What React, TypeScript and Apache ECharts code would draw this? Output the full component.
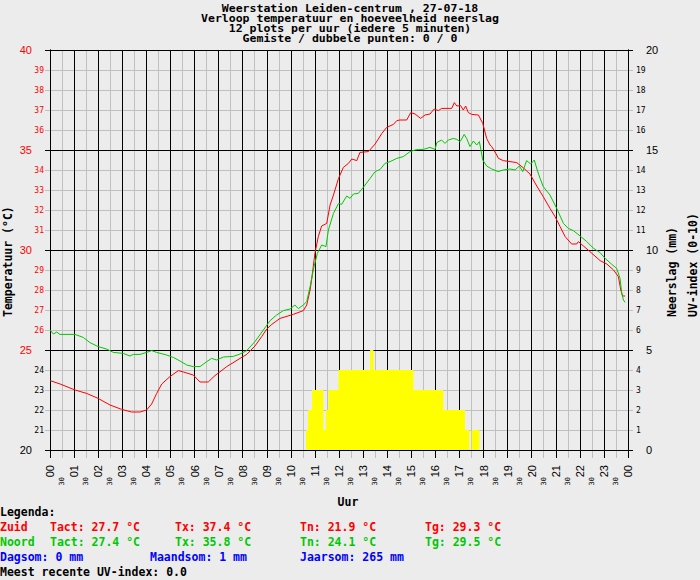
import { useEffect, useRef } from 'react';
import * as echarts from 'echarts';

// ---------- data ----------
const hourLabels = ['00','01','02','03','04','05','06','07','08','09','10','11','12','13','14','15','16','17','18','19','20','21','22','23','00'];

// Zuid temperature [hour, °C]
const zuid: [number, number][] = [
  [0, 23.47], [0.42, 23.3], [1.04, 23.0], [1.52, 22.83], [2.0, 22.58], [2.49, 22.25], [2.98, 22.03],
  [3.39, 21.9], [3.74, 21.9], [4.01, 22.0], [4.22, 22.3], [4.43, 22.83], [4.64, 23.3], [4.98, 23.67],
  [5.33, 23.97], [5.54, 23.9], [5.95, 23.75], [6.23, 23.4], [6.57, 23.4], [6.85, 23.72], [7.34, 24.17],
  [7.89, 24.58], [8.17, 24.78], [8.51, 25.2], [8.79, 25.67], [9.0, 26.05], [9.21, 26.28], [9.55, 26.58],
  [10.1, 26.78], [10.52, 26.97], [10.66, 27.25], [10.8, 28.0], [10.87, 28.58], [11.0, 29.83],
  [11.14, 30.67], [11.28, 31.2], [11.49, 31.33], [11.63, 32.25], [11.77, 32.75], [11.98, 33.58],
  [12.18, 34.13], [12.39, 34.33], [12.53, 34.55], [12.74, 34.47], [12.87, 34.88], [13.22, 34.92],
  [13.5, 35.3], [13.78, 35.83], [13.98, 36.13], [14.26, 36.28], [14.4, 36.47], [14.53, 36.5],
  [14.81, 36.5], [14.98, 36.87], [15.16, 36.8], [15.39, 36.58], [15.57, 36.75], [15.78, 36.8],
  [15.95, 37.05], [16.13, 36.97], [16.26, 37.08], [16.68, 37.08], [16.79, 37.37], [16.89, 37.2],
  [17.05, 37.22], [17.16, 37.0], [17.26, 37.2], [17.37, 36.87], [17.51, 36.78], [17.79, 36.75],
  [17.97, 36.33], [18.13, 35.58], [18.27, 35.25], [18.34, 35.17], [18.55, 34.75], [18.62, 34.58],
  [18.82, 34.47], [19.38, 34.37], [19.66, 34.1], [19.93, 33.8], [20.21, 33.2], [20.48, 32.67],
  [20.76, 32.08], [20.97, 31.67], [21.18, 31.17], [21.39, 30.67], [21.66, 30.3], [21.87, 30.3],
  [21.94, 30.42], [22.15, 30.2], [22.42, 29.92], [22.84, 29.47], [23.12, 29.3], [23.4, 29.0],
  [23.6, 28.67], [23.7, 28.0], [23.78, 27.7], [23.88, 27.7],
];

// Noord temperature [hour, °C]
const noord: [number, number][] = [
  [0, 26.0], [0.14, 25.8], [0.28, 25.9], [0.41, 25.78], [1.04, 25.78], [1.38, 25.63], [1.66, 25.37],
  [2.0, 25.17], [2.35, 25.05], [2.63, 24.88], [3.04, 24.83], [3.32, 24.7], [3.46, 24.78], [3.74, 24.78],
  [4.01, 24.88], [4.22, 24.97], [4.43, 24.88], [4.84, 24.75], [5.12, 24.63], [5.4, 24.45], [5.68, 24.25],
  [5.95, 24.17], [6.23, 24.17], [6.51, 24.42], [6.71, 24.58], [6.92, 24.5], [7.2, 24.65], [7.61, 24.68],
  [7.89, 24.8], [8.17, 24.97], [8.51, 25.42], [8.86, 26.0], [9.14, 26.47], [9.41, 26.75], [9.69, 26.97],
  [9.97, 27.05], [10.17, 27.25], [10.31, 27.07], [10.52, 27.25], [10.66, 27.42], [10.8, 28.17],
  [10.94, 29.05], [11.1, 29.83], [11.28, 30.25], [11.46, 30.17], [11.56, 31.0], [11.77, 31.83],
  [11.98, 32.33], [12.11, 32.28], [12.32, 32.7], [12.46, 32.58], [12.6, 32.8], [12.8, 32.83],
  [13.01, 33.13], [13.29, 33.58], [13.5, 33.92], [13.71, 34.03], [13.91, 34.33], [14.12, 34.42],
  [14.4, 34.58], [14.67, 34.67], [14.95, 34.92], [15.16, 35.0], [15.3, 35.03], [15.5, 35.03],
  [15.78, 35.13], [15.99, 35.03], [16.06, 35.37], [16.26, 35.5], [16.4, 35.33], [16.54, 35.5],
  [16.75, 35.58], [16.89, 35.53], [17.03, 35.42], [17.2, 35.78], [17.3, 35.58], [17.44, 35.17],
  [17.58, 35.45], [17.72, 35.25], [17.83, 35.42], [17.97, 34.5], [18.13, 34.2], [18.34, 34.05],
  [18.61, 33.92], [18.82, 34.0], [19.1, 34.05], [19.31, 34.0], [19.49, 34.2], [19.63, 33.92],
  [19.79, 34.47], [19.96, 34.3], [20.11, 34.5], [20.23, 34.0], [20.35, 33.58], [20.48, 33.17],
  [20.76, 32.75], [21.04, 32.08], [21.32, 31.33], [21.52, 31.08], [21.73, 30.97], [22.01, 30.7],
  [22.29, 30.42], [22.57, 30.08], [22.84, 29.87], [23.05, 29.58], [23.33, 29.28], [23.53, 29.08],
  [23.67, 28.58], [23.74, 27.83], [23.81, 27.5], [23.88, 27.38],
];

// UV index steps [hour where value starts, value]
const uvSteps: [number, number][] = [
  [10.63, 1], [10.71, 2], [10.88, 3], [11.35, 1], [11.46, 2], [11.56, 3], [11.98, 4], [13.29, 5],
  [13.43, 4], [15.09, 3], [16.33, 2], [17.23, 1], [17.41, 0], [17.51, 1], [17.83, 0],
];

const titleLines = [
  'Weerstation Leiden-centrum , 27-07-18',
  'Verloop temperatuur en hoeveelheid neerslag',
  '12 plots per uur (iedere 5 minuten)',
  'Gemiste / dubbele punten: 0 / 0',
];

const zuidStats = ['Zuid', 'Tact: 27.7 °C', 'Tx: 37.4 °C', 'Tn: 21.9 °C', 'Tg: 29.3 °C'];
const noordStats = ['Noord', 'Tact: 27.4 °C', 'Tx: 35.8 °C', 'Tn: 24.1 °C', 'Tg: 29.5 °C'];
const rainStats = ['Dagsom: 0 mm', 'Maandsom: 1 mm', 'Jaarsom: 265 mm'];
const uvLine = 'Meest recente UV-index: 0.0';

// ---------- styles ----------
const MONO = '"DejaVu Sans Mono", monospace';
const SANS = '"Liberation Sans", Arial, sans-serif';
const RED = '#ff0000';
const GREEN = '#00c800';
const BLUE = '#0000ff';
const GRID_GRAY = '#c0c0c0';
const BG = '#ececec';

function txt(text: string, x: number, y: number, fill: string, align = 'left', rotation = 0, size = 11.5, scaleX = 1) {
  return {
    type: 'text',
    x,
    y,
    rotation,
    scaleX,
    silent: true,
    style: {
      text,
      fill,
      font: `bold ${size}px ${MONO}`,
      align,
      verticalAlign: 'middle',
      textAlign: align,
      textVerticalAlign: 'middle',
    },
  };
}

export default function App() {
  const ref = useRef<HTMLDivElement>(null);

  useEffect(() => {
    if (!ref.current) return;
    const chart = echarts.init(ref.current, null, { renderer: 'svg' });
    const tempColor = (v: any) => (Number(v) < 25 ? '#000' : RED);

    const cols = [0, 50, 175, 300, 425];
    const graphics: any[] = [];
    titleLines.forEach((t, i) => graphics.push(txt(t, 350, 8 + i * 10, '#000', 'center', 0, 9.6, 1.2)));
    graphics.push(txt('Temperatuur (°C)', 8, 317, '#000', 'left', Math.PI / 2));
    graphics.push(txt('Neerslag (mm)', 672, 317, '#000', 'left', Math.PI / 2));
    graphics.push(txt('UV-index (0-10)', 693, 317, '#000', 'left', Math.PI / 2));
    graphics.push(txt('Uur', 348, 502, '#000', 'center'));
    graphics.push(txt('Legenda:', 0, 512, '#000'));
    zuidStats.forEach((t, i) => graphics.push(txt(t, cols[i], 527, RED)));
    noordStats.forEach((t, i) => graphics.push(txt(t, cols[i], 542, GREEN)));
    [0, 150, 300].forEach((x, i) => graphics.push(txt(rainStats[i], x, 557, BLUE)));
    graphics.push(txt(uvLine, 0, 572, '#000'));

    const option: any = {
      animation: false,
      backgroundColor: BG,
      grid: { left: 50, top: 50, width: 578, height: 400, show: false },
      xAxis: [
        {
          type: 'value', min: 0, max: 24, interval: 1, position: 'bottom', z: 1,
          axisLine: { show: true, onZero: false, lineStyle: { color: '#000', width: 1 } },
          axisTick: { show: true, length: 8, lineStyle: { color: '#000' } },
          axisLabel: {
            rotate: 90, margin: 15, fontSize: 11, fontFamily: SANS, color: '#000',
            formatter: (v: number) => hourLabels[Math.round(v)] ?? '',
          },
          splitLine: { show: true, lineStyle: { color: '#000', width: 1 } },
        },
        {
          type: 'value', min: 0, max: 24, interval: 0.5, position: 'bottom', z: 0,
          axisLine: { show: false, onZero: false },
          axisTick: { show: true, length: 8, lineStyle: { color: GRID_GRAY } },
          axisLabel: {
            rotate: 90, margin: 27, fontSize: 7, fontFamily: MONO, color: '#000',
            formatter: (v: number) => (Math.round(v * 2) % 2 === 1 ? '30' : ''),
          },
          splitLine: { show: true, lineStyle: { color: GRID_GRAY, width: 1 } },
        },
      ],
      yAxis: [
        {
          type: 'value', min: 20, max: 40, interval: 1, position: 'left', z: 0,
          axisLine: { show: true, onZero: false, lineStyle: { color: '#000' } },
          axisTick: { show: true, length: 5, lineStyle: { color: GRID_GRAY } },
          axisLabel: {
            margin: 6, fontSize: 8, fontFamily: MONO, color: tempColor,
            formatter: (v: number) => (Math.round(v) % 5 === 0 ? '' : String(v)),
          },
          splitLine: { show: true, lineStyle: { color: GRID_GRAY, width: 1 } },
        },
        {
          type: 'value', min: 20, max: 40, interval: 5, position: 'left', z: 1,
          axisLine: { show: true, onZero: false, lineStyle: { color: '#000' } },
          axisTick: { show: true, length: 5, lineStyle: { color: '#000' } },
          axisLabel: { margin: 18, fontSize: 11, fontFamily: SANS, color: tempColor },
          splitLine: { show: true, lineStyle: { color: '#000', width: 1 } },
        },
        {
          type: 'value', min: 0, max: 20, interval: 1, position: 'right', z: 0,
          axisLine: { show: true, onZero: false, lineStyle: { color: '#000' } },
          axisTick: { show: true, length: 5, lineStyle: { color: GRID_GRAY } },
          axisLabel: {
            margin: 8, fontSize: 8, fontFamily: MONO, color: '#000',
            formatter: (v: number) => (Math.round(v) % 5 === 0 ? '' : String(v)),
          },
          splitLine: { show: false },
        },
        {
          type: 'value', min: 0, max: 20, interval: 5, position: 'right', z: 1,
          axisLine: { show: true, onZero: false, lineStyle: { color: '#000' } },
          axisTick: { show: true, length: 5, lineStyle: { color: '#000' } },
          axisLabel: { margin: 18, fontSize: 11, fontFamily: SANS, color: '#000' },
          splitLine: { show: false },
        },
      ],
      series: [
        {
          name: 'UV-index', type: 'line', step: 'end', data: uvSteps,
          xAxisIndex: 0, yAxisIndex: 2, showSymbol: false, symbol: 'none',
          lineStyle: { width: 0 }, areaStyle: { color: '#ffff00', opacity: 1 },
          z: 2,
        },
        {
          name: 'Zuid', type: 'line', data: zuid, xAxisIndex: 0, yAxisIndex: 0,
          showSymbol: false, symbol: 'none', lineStyle: { color: RED, width: 1 }, z: 3,
        },
        {
          name: 'Noord', type: 'line', data: noord, xAxisIndex: 0, yAxisIndex: 0,
          showSymbol: false, symbol: 'none', lineStyle: { color: GREEN, width: 1 }, z: 3,
        },
      ],
      graphic: { elements: graphics },
    };
    chart.setOption(option);
    return () => chart.dispose();
  }, []);

  return (
    <div
      ref={ref}
      style={{ position: 'absolute', left: 0, top: 0, width: 700, height: 580, background: BG }}
    />
  );
}
